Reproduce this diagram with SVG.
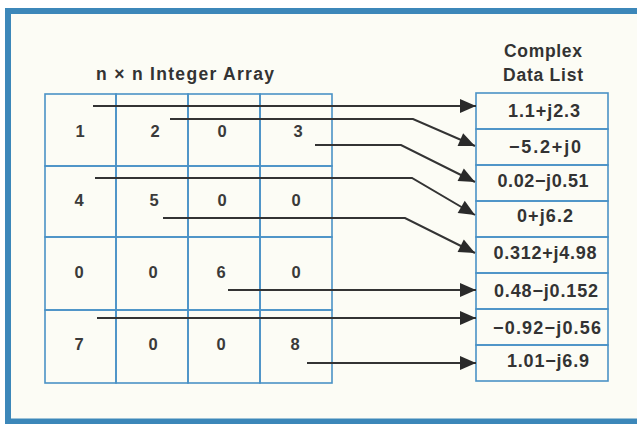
<svg xmlns="http://www.w3.org/2000/svg" width="637" height="424" viewBox="0 0 637 424">
<style>
.cell{fill:none;stroke:#4a92c6;stroke-width:1.6}
.num{font-family:"Liberation Sans",Arial,sans-serif;font-weight:bold;font-size:16.5px;fill:#3a3a3a;text-anchor:middle}
.val{font-family:"Liberation Sans",Arial,sans-serif;font-weight:bold;font-size:18px;fill:#333;text-anchor:middle}
.hdr{font-family:"Liberation Sans",Arial,sans-serif;font-weight:bold;font-size:17.5px;fill:#333;text-anchor:middle}
.conn{fill:none;stroke:#333;stroke-width:2;marker-end:url(#ah)}
.frame{fill:none;stroke:#3c87b9;stroke-width:6}
</style>
<defs>
<marker id="ah" markerUnits="userSpaceOnUse" markerWidth="17" markerHeight="15" refX="16" refY="7" orient="auto" overflow="visible">
<path d="M0,0 L16,7 L0,14 z" fill="#2a2a2a"/>
</marker>
</defs>
<rect x="0" y="0" width="637" height="424" fill="#ffffff"/>
<rect x="8" y="11" width="629" height="411" fill="#fcfcf5"/>
<path class="frame" d="M8,424 V11 H637"/>
<path class="frame" d="M8,421.5 H637"/>

<g id="header-array"><text class="hdr" x="185" y="80" textLength="178" lengthAdjust="spacing">n × n Integer Array</text></g>
<g id="header-list">
<text class="hdr" x="543" y="57" textLength="78" lengthAdjust="spacing">Complex</text>
<text class="hdr" x="543" y="81" textLength="80" lengthAdjust="spacing">Data List</text>
</g>

<g id="array">
<g id="c11"><rect class="cell" x="45" y="94" width="71" height="72"/><text class="num" x="80" y="137">1</text></g>
<g id="c12"><rect class="cell" x="116" y="94" width="72" height="72"/><text class="num" x="155" y="137">2</text></g>
<g id="c13"><rect class="cell" x="188" y="94" width="72" height="72"/><text class="num" x="222" y="137">0</text></g>
<g id="c14"><rect class="cell" x="260" y="94" width="72" height="72"/><text class="num" x="298" y="137">3</text></g>
<g id="c21"><rect class="cell" x="45" y="166" width="71" height="71"/><text class="num" x="79" y="206">4</text></g>
<g id="c22"><rect class="cell" x="116" y="166" width="72" height="71"/><text class="num" x="154" y="206">5</text></g>
<g id="c23"><rect class="cell" x="188" y="166" width="72" height="71"/><text class="num" x="222" y="206">0</text></g>
<g id="c24"><rect class="cell" x="260" y="166" width="72" height="71"/><text class="num" x="296" y="206">0</text></g>
<g id="c31"><rect class="cell" x="45" y="237" width="71" height="73"/><text class="num" x="79" y="278">0</text></g>
<g id="c32"><rect class="cell" x="116" y="237" width="72" height="73"/><text class="num" x="153" y="278">0</text></g>
<g id="c33"><rect class="cell" x="188" y="237" width="72" height="73"/><text class="num" x="221" y="278">6</text></g>
<g id="c34"><rect class="cell" x="260" y="237" width="72" height="73"/><text class="num" x="296" y="278">0</text></g>
<g id="c41"><rect class="cell" x="45" y="310" width="71" height="73"/><text class="num" x="79" y="350">7</text></g>
<g id="c42"><rect class="cell" x="116" y="310" width="72" height="73"/><text class="num" x="153" y="350">0</text></g>
<g id="c43"><rect class="cell" x="188" y="310" width="72" height="73"/><text class="num" x="221" y="350">0</text></g>
<g id="c44"><rect class="cell" x="260" y="310" width="72" height="73"/><text class="num" x="295" y="350">8</text></g>
</g>

<g id="list">
<g id="d1"><rect class="cell" x="476" y="93" width="132" height="36"/><text class="val" x="544" y="117" textLength="72" lengthAdjust="spacing">1.1+j2.3</text></g>
<g id="d2"><rect class="cell" x="476" y="129" width="132" height="36"/><text class="val" x="545" y="153" textLength="72" lengthAdjust="spacing">−5.2+j0</text></g>
<g id="d3"><rect class="cell" x="476" y="165" width="132" height="36"/><text class="val" x="543" y="187" textLength="91" lengthAdjust="spacing">0.02−j0.51</text></g>
<g id="d4"><rect class="cell" x="476" y="201" width="132" height="36"/><text class="val" x="545" y="222" textLength="56" lengthAdjust="spacing">0+j6.2</text></g>
<g id="d5"><rect class="cell" x="476" y="237" width="132" height="36"/><text class="val" x="545" y="259" textLength="103" lengthAdjust="spacing">0.312+j4.98</text></g>
<g id="d6"><rect class="cell" x="476" y="273" width="132" height="36"/><text class="val" x="546" y="297" textLength="104" lengthAdjust="spacing">0.48−j0.152</text></g>
<g id="d7"><rect class="cell" x="476" y="309" width="132" height="36"/><text class="val" x="547" y="334" textLength="108" lengthAdjust="spacing">−0.92−j0.56</text></g>
<g id="d8"><rect class="cell" x="476" y="345" width="132" height="36"/><text class="val" x="548" y="367" textLength="82" lengthAdjust="spacing">1.01−j6.9</text></g>
</g>

<g id="connectors">
<path class="conn" d="M93,106 H476"/>
<path class="conn" d="M170,119 H413 L475,146"/>
<path class="conn" d="M315,145 H401 L475,182"/>
<path class="conn" d="M95,178 H412 L475,215"/>
<path class="conn" d="M163,218 H405 L475,253"/>
<path class="conn" d="M228,290 H476"/>
<path class="conn" d="M97,318 H476"/>
<path class="conn" d="M307,363 H476"/>
</g>
</svg>
